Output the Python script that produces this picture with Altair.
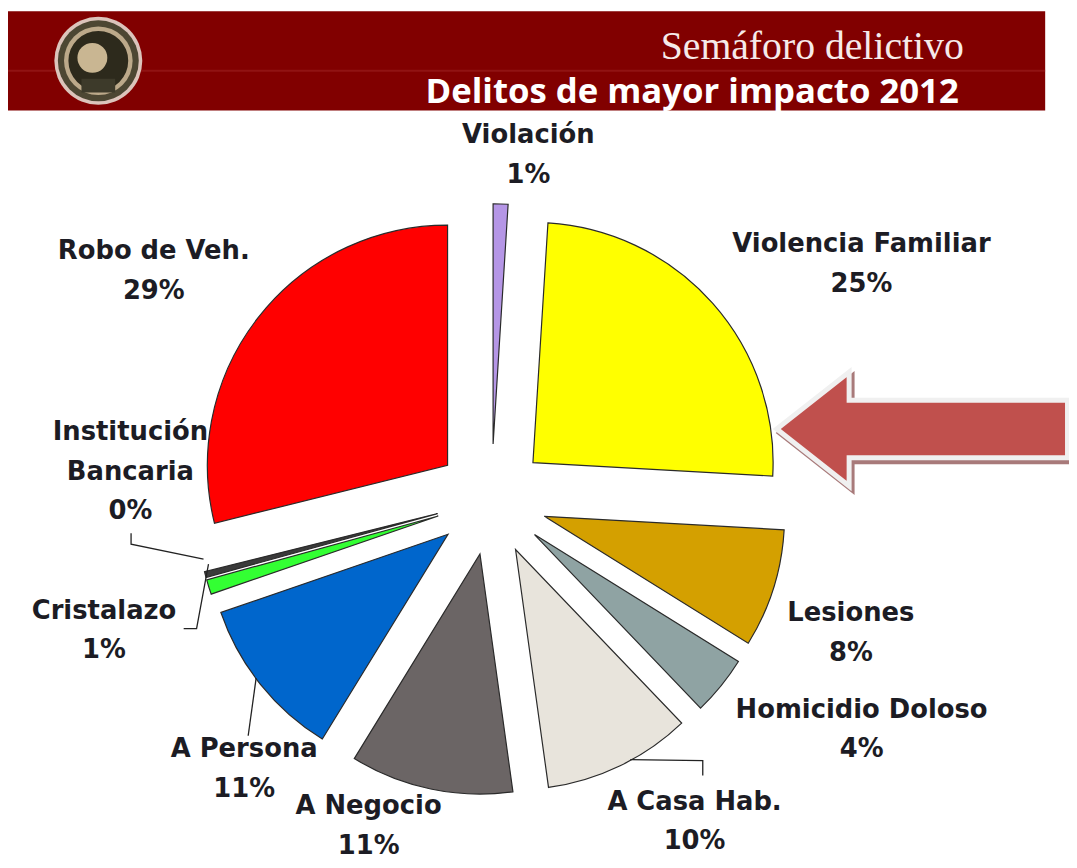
import math
import altair as alt
import pandas as pd

# ---------------- data ----------------
categories = ["Violación", "Violencia Familiar", "Lesiones", "Homicidio Doloso",
              "A Casa Hab.", "A Negocio", "A Persona", "Cristalazo",
              "Institución Bancaria", "Robo de Veh."]
values = [1, 25, 8, 4, 10, 11, 11, 1, 0.4, 29]
label_names = ["Violación", "Violencia Familiar", "Lesiones", "Homicidio Doloso",
               "A Casa Hab.", "A Negocio", "A Persona", "Cristalazo",
               "Institución\nBancaria", "Robo de Veh."]
colors = ["#b596e6", "#ffff00", "#d4a000", "#8fa3a3", "#e8e4dc",
          "#6b6565", "#0066cc", "#33ff33", "#3a3a3a", "#ff0000"]

title_top = "Semáforo delictivo"
title_main = "Delitos de mayor impacto 2012"

# ---------------- layout (chart pixel space) ----------------
W, H = 1069, 852
CX, CY = 487, 492          # pie centre
R = 242                    # pie radius
EXPLODE = 56               # distance every slice is pulled out
TOTAL = sum(values)

# anchor of each label's first line, polar around the pie centre:
# (angle deg clockwise from top, radius px)
label_polar = {
    "Violación": (5.8, 369), "Violencia Familiar": (55.4, 453), "Lesiones": (107.6, 380),
    "Homicidio Doloso": (119.6, 429), "A Casa Hab.": (146.1, 367), "A Negocio": (201.8, 333),
    "A Persona": (224.7, 354), "Cristalazo": (254.0, 406), "Institución Bancaria": (280.6, 370),
    "Robo de Veh.": (306.3, 422),
}

df = pd.DataFrame({
    "cat": categories,
    "value": values,
    "idx": list(range(len(categories))),
})

color_scale = alt.Scale(domain=categories, range=colors)
FONT = "DejaVu Sans"

# ---------------- pie ----------------
pie = alt.Chart(df).transform_window(
    cum="sum(value)", sort=[alt.SortField("idx")], frame=[None, 0]
).transform_calculate(
    start="datum.cum - datum.value",
    end="datum.cum",
    mid=f"(datum.cum - datum.value / 2) / {TOTAL} * 2 * PI",
).transform_calculate(
    px=f"{CX} + {EXPLODE} * sin(datum.mid)",
    py=f"{CY} - {EXPLODE} * cos(datum.mid)",
).mark_arc(radius=R, stroke="#2a2a2a", strokeWidth=1.2).encode(
    theta=alt.Theta("start:Q", scale=alt.Scale(domain=[0, TOTAL], range=[0, 2 * math.pi])),
    theta2=alt.Theta2("end:Q"),
    x=alt.X("px:Q", scale=None, axis=None),
    y=alt.Y("py:Q", scale=None, axis=None),
    color=alt.Color("cat:N", scale=color_scale, legend=None),
)

# ---------------- labels ----------------
lab_rows = []
for name, lab, v in zip(categories, label_names, values):
    ang, rad = label_polar[name]
    lab_rows.append({"cat": name, "txt": f"{lab}\n{round(v)}%", "ang": ang, "rad": rad})
lab_df = pd.DataFrame(lab_rows)

labels = alt.Chart(lab_df).transform_calculate(
    lx=f"{CX} + datum.rad * sin(datum.ang * PI / 180)",
    ly=f"{CY} - datum.rad * cos(datum.ang * PI / 180)",
).mark_text(font=FONT, fontWeight="bold", fontSize=26, lineHeight=40,
            align="center", baseline="middle", color="#1c1c24", lineBreak="\n").encode(
    x=alt.X("lx:Q", scale=None, axis=None),
    y=alt.Y("ly:Q", scale=None, axis=None),
    text="txt:N",
)

# ---------------- leader lines (annotation) ----------------
leaders = pd.DataFrame({
    "lid": [0, 0, 0, 1, 1, 1, 2, 2, 3, 3, 3],
    "o":   [0, 1, 2, 0, 1, 2, 0, 1, 0, 1, 2],
    "lx":  [124, 124, 197, 177, 190, 202, 242, 250, 627, 700, 700],
    "ly":  [526, 537, 552, 622, 622, 557, 730, 672, 754, 755, 770],
})
leader_lines = alt.Chart(leaders).mark_line(color="#222222", strokeWidth=1.3).encode(
    x=alt.X("lx:Q", scale=None, axis=None),
    y=alt.Y("ly:Q", scale=None, axis=None),
    detail="lid:N",
    order="o:Q",
)

# ---------------- header band ----------------
one = pd.DataFrame({"k": [0]})
band = alt.Chart(one).mark_rect(color="#810000").encode(
    x=alt.value(0), x2=alt.value(1045), y=alt.value(0), y2=alt.value(100))
band_line = alt.Chart(one).mark_rule(color="#a32a2a", strokeWidth=2, opacity=0.45).encode(
    x=alt.value(0), x2=alt.value(1045), y=alt.value(60))
t1 = alt.Chart(one).mark_text(text=title_top, font="Liberation Serif", fontSize=40,
                              align="right", baseline="alphabetic", color="#f6eaea").encode(
    x=alt.value(963), y=alt.value(48))
t2 = alt.Chart(one).mark_text(text=title_main, font="Open Sans", fontWeight="bold", fontSize=35,
                              align="right", baseline="alphabetic", color="#ffffff").encode(
    x=alt.value(958), y=alt.value(93))

# seal / logo
logo_layers = []
for r, col in [(50, "#dcc4bb"), (46, "#4d4733"), (39, "#bca98a"), (34, "#2d2a1c")]:
    logo_layers.append(alt.Chart(one).mark_circle(size=math.pi * r * r, color=col, opacity=1).encode(
        x=alt.value(91), y=alt.value(50)))
logo_layers.append(alt.Chart(one).mark_circle(size=math.pi * 17 * 17, color="#c9b692", opacity=1).encode(
    x=alt.value(85), y=alt.value(47)))
logo_layers.append(alt.Chart(one).mark_rect(color="#3d3a2a").encode(
    x=alt.value(74), x2=alt.value(108), y=alt.value(68), y2=alt.value(82)))

# ---------------- arrow (annotation) ----------------
ARROW = "M -1 0 L -0.502 -0.392 L -0.502 -0.198 L 1 -0.198 L 1 0.198 L -0.502 0.198 L -0.502 0.392 Z"
arrow_shadow = alt.Chart(one).mark_point(shape=ARROW, size=293 * 293, filled=True,
                                         fill="#a87a7a", stroke="#a87a7a", strokeWidth=5,
                                         opacity=1).encode(x=alt.value(924), y=alt.value(425))
arrow = alt.Chart(one).mark_point(shape=ARROW, size=293 * 293, filled=True,
                                  fill="#c0504d", stroke="#f0f0f0", strokeWidth=5,
                                  opacity=1).encode(x=alt.value(921), y=alt.value(421))

chart = alt.layer(
    band, band_line, *logo_layers, t1, t2,
    pie, leader_lines, labels, arrow_shadow, arrow,
).properties(
    width=W, height=H, padding=0,
    autosize=alt.AutoSizeParams(type="none"),
    background="white",
).configure_view(stroke=None)

chart.save("out.html", embed_options={"renderer": "svg", "actions": False})
